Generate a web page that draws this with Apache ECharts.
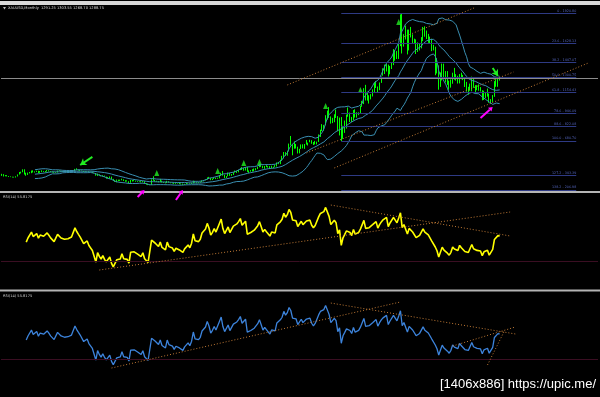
<!DOCTYPE html>
<html><head><meta charset="utf-8">
<script src="https://cdn.jsdelivr.net/npm/echarts@6/dist/echarts.min.js"></script>
<style>html,body{margin:0;padding:0;background:#000;overflow:hidden}#c{width:600px;height:397px}</style>
</head><body><div id="c"></div>
<script>
// ---- data: XAUUSD monthly, Jul 1992 .. May 2016 ----
const startYear = 1992, startMonth = 7;
const futureSlots = 56;
const firstOpen = 343;
const closes = [
 357,340,349,339,334,333,
 330,328,337,354,377,378,401,372,355,369,371,391,
 378,381,389,376,387,386,384,386,394,389,383,383,
 375,376,392,389,385,387,383,383,384,382,387,387,
 405,400,396,392,390,382,385,386,379,379,371,369,
 345,358,348,340,345,334,326,325,332,311,296,290,
 303,297,301,310,293,296,288,273,294,292,294,288,
 287,287,280,286,268,262,255,255,299,299,292,290,
 283,293,279,275,272,289,277,278,273,264,270,273,
 265,267,258,264,267,271,265,273,293,279,275,277,
 282,297,302,308,326,318,304,312,324,317,319,347,
 368,347,334,337,361,346,354,375,385,386,398,416,
 400,396,426,387,393,395,391,407,415,429,452,438,
 422,435,428,435,417,435,429,433,473,470,495,513,
 568,556,582,654,643,614,633,623,599,604,646,632,
 650,665,662,677,658,648,665,672,743,789,783,834,
 923,972,916,864,885,928,913,833,880,718,816,869,
 928,943,916,883,980,927,955,955,1007,1040,1181,1096,
 1081,1118,1113,1179,1207,1244,1181,1248,1308,1357,1385,1420,
 1332,1409,1439,1556,1536,1500,1628,1826,1620,1714,1746,1564,
 1737,1710,1668,1664,1561,1604,1614,1648,1772,1719,1712,1675,
 1663,1578,1595,1472,1393,1234,1312,1395,1327,1323,1253,1202,
 1244,1326,1284,1295,1250,1327,1282,1286,1210,1171,1183,1199,
 1283,1212,1183,1183,1190,1172,1095,1134,1115,1142,1064,1061,
 1118,1238,1233,1291.25,1288.75
];
const highs = [
 362,359,350,349,340,337,
 334,333,338,356,380,383,406,406,373,374,380,394,
 396,386,392,392,389,396,389,389,399,397,390,386,
 382,380,393,396,392,391,390,386,387,387,389,389,
 410,416,403,398,394,390,387,389,387,384,381,373,
 370,365,357,345,349,345,335,331,336,335,313,300,
 307,305,305,315,309,300,299,290,302,302,301,296,
 292,290,291,292,290,270,264,260,308,338,302,295,
 292,313,296,283,279,294,290,280,276,274,271,275,
 273,269,268,265,273,272,270,277,295,292,280,281,
 284,299,302,309,327,332,322,316,327,325,324,350,
 372,389,352,340,375,370,360,377,394,392,400,417,
 428,419,428,429,395,398,407,414,417,432,456,456,
 440,438,446,437,437,441,431,447,473,478,498,537,
 574,573,587,656,730,648,677,652,626,605,648,649,
 652,691,665,693,689,671,682,675,745,791,845,838,
 932,977,1011,920,906,941,988,923,909,914,829,880,
 938,1007,958,915,982,990,961,960,1023,1071,1195,1227,
 1162,1126,1137,1183,1249,1265,1211,1250,1308,1388,1424,1431,
 1424,1411,1448,1575,1565,1556,1632,1912,1920.8,1720,1803,1764,
 1764,1790,1718,1676,1669,1640,1625,1691,1790,1796,1755,1723,
 1696,1676,1617,1598,1487,1416,1348,1434,1433,1361,1361,1268,
 1280,1345,1392,1331,1315,1332,1345,1324,1287,1256,1208,1239,
 1307,1297,1224,1224,1232,1205,1175,1170,1157,1191,1142,1088,
 1128,1263,1283,1303,1303.55
];
const lows = [
 342,336,338,337,331,330,
 326,326,326,336,355,365,377,355,343,351,366,368,
 375,374,379,368,372,378,380,376,384,385,380,375,
 372,372,375,388,383,382,382,380,381,381,382,384,
 387,397,394,388,390,380,380,385,378,379,370,367,
 344,341,345,337,339,333,315,319,318,308,293,283,
 279,290,293,299,292,285,287,271,275,287,290,285,
 284,283,279,279,268,256,252,252,254,295,289,284,
 279,281,278,273,269,272,276,270,269,264,263,267,
 262,259,255,255,263,266,264,264,270,276,271,271,
 276,281,288,299,307,316,300,301,312,311,314,318,
 342,344,322,321,338,342,343,351,375,371,377,398,
 399,392,394,381,371,383,385,387,396,408,426,429,
 416,411,427,422,416,415,418,429,433,456,456,490,
 512,536,538,581,637,542,606,608,560,561,604,609,
 605,646,637,669,654,642,648,648,672,721,778,780,
 834,889,905,850,855,864,905,775,735,681,703,760,
 802,917,866,865,883,909,908,933,953,1014,1040,1075,
 1074,1045,1086,1114,1157,1196,1157,1175,1246,1316,1332,1357,
 1308,1330,1381,1419,1462,1478,1479,1603,1532,1599,1668,1523,
 1562,1688,1627,1627,1527,1547,1562,1582,1652,1695,1672,1636,
 1626,1555,1562,1321,1338,1180,1207,1270,1291,1251,1227,1180,
 1200,1238,1277,1268,1240,1241,1282,1273,1206,1161,1131,1170,
 1167,1198,1142,1175,1170,1162,1077,1080,1098,1113,1053,1046,
 1061,1111,1208,1208,1268.70
];
const titleText = 'XAUUSD,Monthly  1291.25 1303.55 1268.70 1288.75';
const rsiLabel = 'RSI(14) 55.8175';
const watermark = '[1406x886] https://upic.me/';
const currentPrice = 1288.75;
// Fibonacci retracement (drawn from the Oct 2008 low to the Sep 2011 high)
const fibPcts   = ['0','23.6','38.2','50.0','61.8','78.6','88.6','100.0','127.2','138.2'];
const fibPrices = [1920.80,1628.13,1447.07,1300.75,1154.43,946.09,822.08,680.70,343.39,206.98];
const fibStartIdx = 195, fibEndIdx = 330;
// trend lines [i1, v1, i2, v2]
const priceTrends = [[164,1226,271.5,1980],[175,565,294,1352],[191,419,337,1440]];
const rsi1Trends  = [[56.4,20.6,292,80.4],[188.5,87.6,292,55.7]];
const rsi2Trends  = [[62.7,20.6,228.7,88.7],[188.5,87.6,294.8,55.7],[258.6,43.3,294.8,62.9],[279.3,23.7,288.5,59.8]];
// annotation markers
const greenMarks  = [[88.5,370],[124,389],[138.5,467],[147.7,477],[186,1021],[206,1177],[227.6,1838]];
const greenArrows = [[51.8,526,44.9,448],[282.2,1391,284.5,1313]];
const pinkArrows  = [[78.2,137,82.2,205],[99.5,108,103.5,205],[274.7,905,281.6,1012]];

// ---- build ----
const nBars = closes.length;
const categories = [];
for (let k = 0; k < nBars + futureSlots; k++) {
  const m = startMonth - 1 + k;
  categories.push((startYear + Math.floor(m / 12)) + '.' + String(m % 12 + 1).padStart(2, '0'));
}
const candles = closes.map((c, i) => [i === 0 ? firstOpen : closes[i - 1], c, lows[i], highs[i]]);

function rsiCalc(c, n) {
  const out = c.map(() => null);
  let g = 0, l = 0;
  for (let i = 1; i <= n; i++) { const d = c[i] - c[i - 1]; if (d > 0) g += d; else l -= d; }
  g /= n; l /= n;
  out[n] = 100 - 100 / (1 + g / l);
  for (let i = n + 1; i < c.length; i++) {
    const d = c[i] - c[i - 1];
    g = (g * (n - 1) + (d > 0 ? d : 0)) / n;
    l = (l * (n - 1) + (d < 0 ? -d : 0)) / n;
    out[i] = l === 0 ? 100 : 100 - 100 / (1 + g / l);
  }
  return out;
}
function bands(c, n, k) {
  const mid = [], up = [], lo = [];
  for (let i = 0; i < c.length; i++) {
    if (i < n - 1) { mid.push(null); up.push(null); lo.push(null); continue; }
    let s = 0; for (let j = i - n + 1; j <= i; j++) s += c[j];
    const m = s / n;
    let v = 0; for (let j = i - n + 1; j <= i; j++) v += (c[j] - m) * (c[j] - m);
    const sd = Math.sqrt(v / n);
    mid.push(m); up.push(m + k * sd); lo.push(m - k * sd);
  }
  return { mid, up, lo };
}
const rsi = rsiCalc(closes, 14);
const bb = bands(closes, 20, 2);

const trendStyle = { color: '#c07a35', type: [1, 2], width: 1 };
const trendML = (arr) => arr.map(t => [{ coord: [t[0], t[1]], lineStyle: trendStyle }, { coord: [t[2], t[3]] }]);

const chart = echarts.init(document.getElementById('c'), null, { renderer: 'canvas' });
const gridCommon = { left: 1, width: 597 };
const xAx = (gi) => ({ type: 'category', gridIndex: gi, data: categories, boundaryGap: true, show: false });
const yAx = (gi, min, max) => ({ type: 'value', gridIndex: gi, min, max, show: false, splitLine: { show: false } });
const bbStyle = { color: '#3a8fb2', width: 1 };

chart.setOption({
  backgroundColor: '#000',
  animation: false,
  grid: [
    Object.assign({ top: 7, height: 184 }, gridCommon),
    Object.assign({ top: 193, height: 97 }, gridCommon),
    Object.assign({ top: 291, height: 97 }, gridCommon)
  ],
  xAxis: [xAx(0), xAx(1), xAx(2)],
  yAxis: [yAx(0, 195, 1984), yAx(1, 0, 100), yAx(2, 0, 100)],
  series: [
    { type: 'line', xAxisIndex: 0, yAxisIndex: 0, data: [], silent: true,
      markLine: { silent: true, symbol: 'none', animation: false,
        data: [{ yAxis: currentPrice, lineStyle: { color: '#8c8c8c', width: 1, type: 'solid' }, label: { show: false } }]
          .concat(fibPrices.map((p, k) => [
            { coord: [fibStartIdx, p], lineStyle: { color: '#2e3a84', width: 1, type: 'solid' },
              label: { show: true, position: 'insideEndTop', formatter: fibPcts[k] + ' - ' + p.toFixed(2),
                color: '#5566c0', fontSize: 3.3, fontFamily: 'DejaVu Sans', distance: [0, 1] } },
            { coord: [fibEndIdx, p] }]))
      } },
    { type: 'line', xAxisIndex: 0, yAxisIndex: 0, data: bb.up, symbol: 'none', lineStyle: bbStyle },
    { type: 'line', xAxisIndex: 0, yAxisIndex: 0, data: bb.mid, symbol: 'none', lineStyle: bbStyle },
    { type: 'line', xAxisIndex: 0, yAxisIndex: 0, data: bb.lo, symbol: 'none', lineStyle: bbStyle },
    { type: 'candlestick', xAxisIndex: 0, yAxisIndex: 0, data: candles, barWidth: 1,
      itemStyle: { color: '#00d800', color0: '#c8ffc8', borderColor: '#00ff00', borderColor0: '#00ff00', borderWidth: 1 } },
    { type: 'line', xAxisIndex: 0, yAxisIndex: 0, data: [],
      markLine: { silent: true, symbol: 'none', label: { show: false }, data: trendML(priceTrends) } },
    { type: 'scatter', xAxisIndex: 0, yAxisIndex: 0, data: greenMarks, symbol: 'triangle', symbolSize: [5, 6],
      itemStyle: { color: '#22ee22' } },
    { type: 'line', xAxisIndex: 0, yAxisIndex: 0, data: [],
      markLine: { silent: true, symbol: ['none', 'arrow'], symbolSize: 6, label: { show: false },
        lineStyle: { color: '#22ee22', width: 2, type: 'solid' },
        data: greenArrows.map(a => [{ coord: [a[0], a[1]] }, { coord: [a[2], a[3]] }]) } },
    // RSI 1
    { type: 'line', xAxisIndex: 1, yAxisIndex: 1, data: rsi, symbol: 'none', lineStyle: { color: '#ffff00', width: 1.6 },
      markLine: { silent: true, symbol: 'none', label: { show: false },
        data: [{ yAxis: 30, lineStyle: { color: '#3a0e22', width: 1, type: 'solid' } }].concat(trendML(rsi1Trends)) } },
    // RSI 2
    { type: 'line', xAxisIndex: 2, yAxisIndex: 2, data: rsi, symbol: 'none', lineStyle: { color: '#3d84dc', width: 1.3 },
      markLine: { silent: true, symbol: 'none', label: { show: false },
        data: [{ yAxis: 30, lineStyle: { color: '#3a0e22', width: 1, type: 'solid' } }].concat(trendML(rsi2Trends)) } }
  ]
});

// frame, texts and the magenta arrows (positioned through the chart's own scales)
const gfx = [
  { type: 'rect', shape: { x: 0, y: 1, width: 600, height: 4 }, style: { fill: '#d8d8d8' }, silent: true },
  { type: 'rect', shape: { x: 0, y: 191, width: 600, height: 2 }, style: { fill: '#b4b4b4' }, silent: true },
  { type: 'rect', shape: { x: 0, y: 289.5, width: 600, height: 2 }, style: { fill: '#b4b4b4' }, silent: true },
  { type: 'polygon', shape: { points: [[3, 7], [6, 7], [4.5, 9.5]] }, style: { fill: '#bdbdbd' }, silent: true },
  { type: 'text', x: 8, y: 6.5, style: { text: titleText, fill: '#dcdcdc', font: '3.6px "DejaVu Sans"' }, silent: true },
  { type: 'text', x: 3, y: 195, style: { text: rsiLabel, fill: '#d0d0d0', font: '3.6px "DejaVu Sans"' }, silent: true },
  { type: 'text', x: 3, y: 294, style: { text: rsiLabel, fill: '#d0d0d0', font: '3.6px "DejaVu Sans"' }, silent: true },
  { type: 'text', right: 4, top: 378, style: { text: watermark, fill: '#ffffff', font: '13px "Liberation Sans"' }, silent: true }
];
pinkArrows.forEach(a => {
  const p0 = chart.convertToPixel({ gridIndex: 0 }, [a[0], a[1]]);
  const p1 = chart.convertToPixel({ gridIndex: 0 }, [a[2], a[3]]);
  const ang = Math.atan2(p1[1] - p0[1], p1[0] - p0[0]);
  const hl = 4, hw = 2.6;
  const bx = p1[0] - hl * Math.cos(ang), by = p1[1] - hl * Math.sin(ang);
  gfx.push({ type: 'line', shape: { x1: p0[0], y1: p0[1], x2: bx, y2: by }, style: { stroke: '#ff00ff', lineWidth: 2 }, silent: true, z: 100 });
  gfx.push({ type: 'polygon', shape: { points: [[p1[0], p1[1]],
    [bx - hw * Math.sin(ang), by + hw * Math.cos(ang)], [bx + hw * Math.sin(ang), by - hw * Math.cos(ang)]] },
    style: { fill: '#ff00ff' }, silent: true, z: 100 });
});
chart.setOption({ graphic: gfx });
</script>
</body></html>
